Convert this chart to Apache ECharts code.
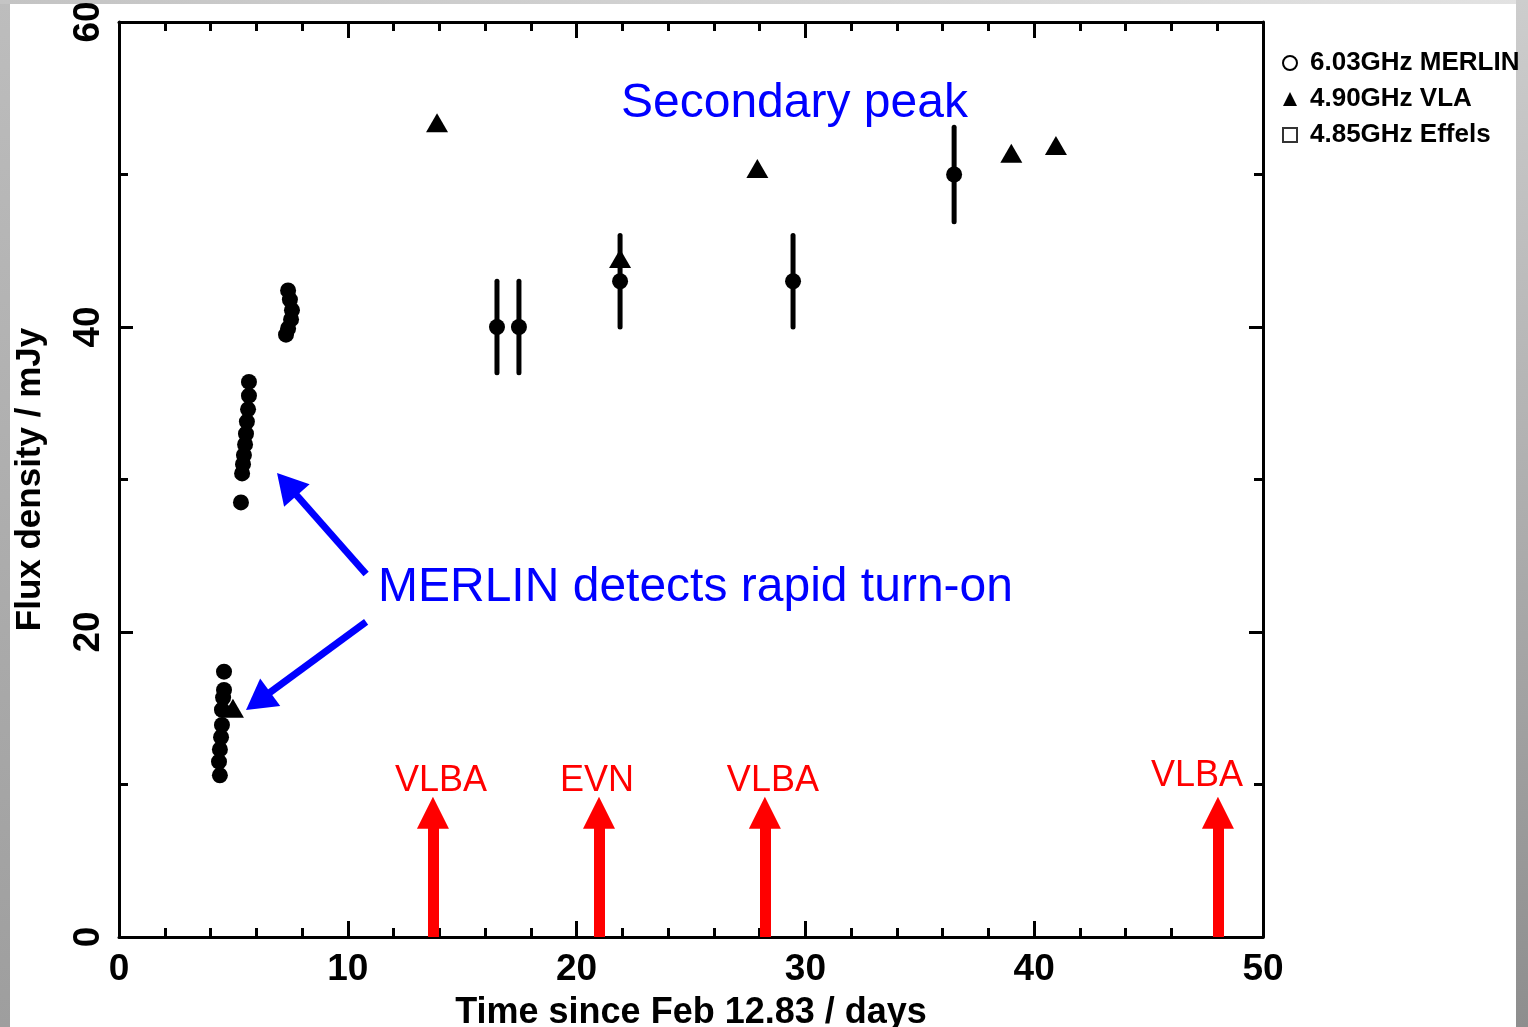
<!DOCTYPE html>
<html>
<head>
<meta charset="utf-8">
<title>Flux density light curve</title>
<script src="https://cdn.jsdelivr.net/npm/echarts@6/dist/echarts.min.js"></script>
<style>
  html, body { margin: 0; padding: 0; width: 1528px; height: 1027px; overflow: hidden; background: #cfcfcf; }
  #edgeLeft { position: absolute; left: 0; top: 0; width: 10px; height: 1027px;
    background: linear-gradient(to bottom, #bdbdbd, #9e9e9e); }
  #edgeTop { position: absolute; left: 0; top: 0; width: 1528px; height: 4px;
    background: linear-gradient(to right, #c4c4c4, #e2e2e2); }
  #edgeRight { position: absolute; left: 1516px; top: 0; width: 12px; height: 1027px;
    background: linear-gradient(to bottom, #cdcdcd, #8e8e8e); }
  #panel { position: absolute; left: 10px; top: 4px; width: 1506px; height: 1023px; background: #ffffff; }
  #chart { position: absolute; left: 0; top: 0; width: 1528px; height: 1027px; }
</style>
</head>
<body>
<div id="edgeLeft"></div>
<div id="edgeTop"></div>
<div id="edgeRight"></div>
<div id="panel"></div>
<div id="chart"></div>
<script>
// 6.03 GHz MERLIN monitoring: days since Feb 12.83, flux density (mJy), 1-sigma error (mJy)
const merlinDays = [
  4.41, 4.37, 4.41, 4.46, 4.50, 4.50, 4.55, 4.59, 4.59,
  5.68, 5.68, 5.64, 5.59, 5.55, 5.51, 5.46, 5.42, 5.38, 5.33,
  7.39, 7.47, 7.56, 7.52, 7.39, 7.30,
  16.52, 17.48, 21.90, 29.46, 36.50
];
const merlinFlux = [
  10.6, 11.5, 12.3, 13.1, 13.9, 14.9, 15.7, 16.2, 17.4,
  36.4, 35.5, 34.6, 33.8, 33.0, 32.3, 31.6, 31.0, 30.4, 28.5,
  42.4, 41.8, 41.1, 40.5, 39.9, 39.5,
  40.0, 40.0, 43.0, 43.0, 50.0
];
const merlinErr = [
  0, 0, 0, 0, 0, 0, 0, 0, 0,
  0, 0, 0, 0, 0, 0, 0, 0, 0, 0,
  0, 0, 0, 0, 0, 0,
  3.0, 3.0, 3.0, 3.0, 3.1
];

// 4.90 GHz VLA points
const vlaDays = [4.98, 13.90, 21.90, 27.90, 39.00, 40.95];
const vlaFlux = [15.0, 53.4, 44.5, 50.4, 51.4, 51.9];

// 4.85 GHz Effelsberg points (none inside the plotted range)
const effDays = [];
const effFlux = [];

// VLBI observing epochs (days) and the array used
const vlbiDays = [13.72, 20.98, 28.23, 48.03];
const vlbiNames = ['VLBA', 'EVN', 'VLBA', 'VLBA'];

// axis ticks
const xTickValues = [0, 10, 20, 30, 40, 50];
const yTickValues = [0, 20, 40, 60];

const seriesNames = ['6.03GHz MERLIN', '4.90GHz VLA', '4.85GHz Effels'];

const AXIS_FONT = '"Liberation Sans", Arial, sans-serif';
const BLUE = '#0000ff';
const RED = '#ff0000';
const ARROW_HEAD_Y = 8.15;   // centre of the red arrow heads (mJy)
// horizontal / vertical nudge of each epoch label relative to its arrow (px)
const vlbiLabelShift = [[8, 0], [-2, 0], [8, 0], [-21, -5]];

const merlinPoints = merlinDays.map((d, i) => [d, merlinFlux[i]]);
const merlinBars = merlinDays.map((d, i) => [d, merlinFlux[i], merlinErr[i]]).filter(p => p[2] > 0);
const vlaPoints = vlaDays.map((d, i) => [d, vlaFlux[i]]);
const effPoints = effDays.map((d, i) => [d, effFlux[i]]);

const chart = echarts.init(document.getElementById('chart'), null, { renderer: 'canvas' });

const axisLine = { show: true, onZero: false, lineStyle: { color: '#000', width: 3 } };

const xCommon = {
  type: 'value', min: xTickValues[0], max: xTickValues[xTickValues.length - 1], interval: 10,
  axisLine: axisLine,
  axisTick: { show: true, inside: true, length: 16, lineStyle: { color: '#000', width: 3 } },
  minorTick: { show: true, splitNumber: 5, length: 9, lineStyle: { color: '#000', width: 3 } },
  splitLine: { show: false }
};
const yCommon = {
  type: 'value', min: yTickValues[0], max: yTickValues[yTickValues.length - 1], interval: 20,
  axisLine: axisLine,
  axisTick: { show: true, inside: true, length: 14, lineStyle: { color: '#000', width: 3 } },
  minorTick: { show: true, splitNumber: 2, length: 9, lineStyle: { color: '#000', width: 3 } },
  splitLine: { show: false }
};

const vlbiLines = vlbiDays.map((d, i) => [
  { coord: [d, 0], symbol: 'none' },
  {
    coord: [d, ARROW_HEAD_Y], symbol: 'triangle', symbolSize: [32, 32],
    label: {
      show: true, position: 'end', formatter: vlbiNames[i], distance: 14,
      color: RED, fontSize: 36, fontFamily: AXIS_FONT,
      offset: vlbiLabelShift[i]
    }
  }
]);

chart.setOption({
  animation: false,
  backgroundColor: 'transparent',
  grid: { left: 119, top: 22, right: 265, bottom: 90, containLabel: false, outerBoundsMode: 'none' },
  legend: {
    orient: 'vertical', left: 1277, top: 45, itemGap: 10,
    itemWidth: 14, itemHeight: 14,
    selectedMode: false,
    textStyle: { fontSize: 26, fontWeight: 'bold', color: '#000', fontFamily: AXIS_FONT, padding: [0, 0, 0, 8] },
    data: [
      { name: seriesNames[0], icon: 'emptyCircle' },
      { name: seriesNames[1], icon: 'triangle' },
      { name: seriesNames[2], icon: 'emptyRect' }
    ]
  },
  xAxis: [
    Object.assign({}, xCommon, {
      position: 'bottom',
      name: 'Time since Feb 12.83 / days', nameLocation: 'middle', nameGap: 58,
      nameTextStyle: { fontSize: 36, fontWeight: 'bold', color: '#000', fontFamily: AXIS_FONT },
      axisLabel: { show: true, margin: 14, fontSize: 37, fontWeight: 'bold', color: '#000', fontFamily: AXIS_FONT }
    }),
    Object.assign({}, xCommon, { position: 'top', axisLabel: { show: false } })
  ],
  yAxis: [
    Object.assign({}, yCommon, {
      position: 'left',
      name: 'Flux density / mJy', nameLocation: 'middle', nameGap: 71, nameRotate: 90,
      nameTextStyle: { fontSize: 35, fontWeight: 'bold', color: '#000', fontFamily: AXIS_FONT },
      axisLabel: { show: true, rotate: 90, margin: 12, fontSize: 37, fontWeight: 'bold', color: '#000', fontFamily: AXIS_FONT }
    }),
    Object.assign({}, yCommon, { position: 'right', axisLabel: { show: false } })
  ],
  series: [
    {
      name: 'MERLIN errors',
      type: 'custom',
      xAxisIndex: 0, yAxisIndex: 0,
      data: merlinBars,
      z: 2,
      renderItem: function (params, api) {
        const x = api.value(0), y = api.value(1), e = api.value(2);
        const p1 = api.coord([x, y - e]);
        const p2 = api.coord([x, y + e]);
        return {
          type: 'line',
          shape: { x1: p1[0], y1: p1[1], x2: p2[0], y2: p2[1] },
          style: { stroke: '#000', lineWidth: 5, lineCap: 'round' }
        };
      }
    },
    {
      name: seriesNames[0],
      type: 'scatter',
      data: merlinPoints,
      symbol: 'circle', symbolSize: 16,
      itemStyle: { color: '#000', opacity: 1 },
      z: 3,
      markLine: {
        silent: true,
        symbol: ['none', 'triangle'],
        symbolSize: [34, 30],
        lineStyle: { color: BLUE, width: 7, type: 'solid' },
        itemStyle: { color: BLUE },
        label: { show: false },
        data: [
          [{ coord: [10.8, 23.8] }, { coord: [7.34, 29.69] }],
          [{ coord: [10.8, 20.66] }, { coord: [6.08, 15.47] }]
        ]
      }
    },
    {
      name: seriesNames[1],
      type: 'scatter',
      data: vlaPoints,
      symbol: 'triangle', symbolSize: [22, 19],
      itemStyle: { color: '#000', opacity: 1 },
      z: 3
    },
    {
      name: seriesNames[2],
      type: 'scatter',
      data: effPoints,
      symbol: 'rect', symbolSize: 12,
      itemStyle: { color: '#000' },
      z: 3,
      markLine: {
        silent: true,
        symbol: ['none', 'triangle'],
        lineStyle: { color: RED, width: 11, type: 'solid', opacity: 1 },
        itemStyle: { color: RED },
        data: vlbiLines
      }
    }
  ],
  graphic: [
    {
      type: 'text', left: 621, top: 80,
      style: { text: 'Secondary peak', fill: BLUE, fontSize: 48, fontFamily: AXIS_FONT }
    },
    {
      type: 'text', left: 378, top: 564,
      style: { text: 'MERLIN detects rapid turn-on', fill: BLUE, fontSize: 48, fontFamily: AXIS_FONT }
    }
  ]
});
</script>
</body>
</html>
